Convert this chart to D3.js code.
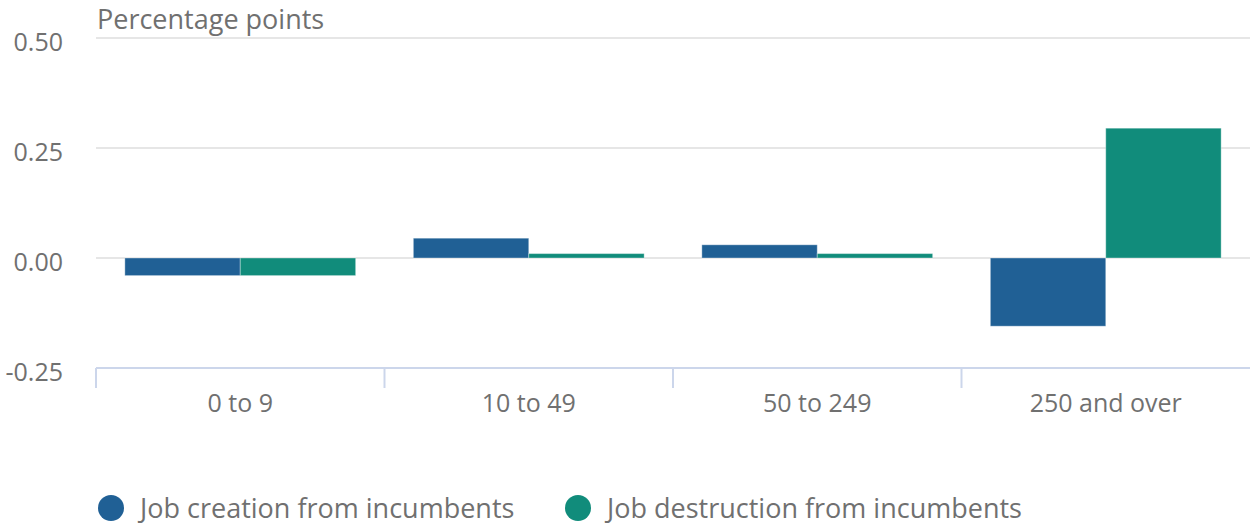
<!DOCTYPE html>
<html>
<head>
<meta charset="utf-8">
<script src="https://cdn.jsdelivr.net/npm/d3@7/dist/d3.min.js"></script>
<style>
  html, body { margin: 0; padding: 0; background: #fff; }
  svg { display: block; font-family: "Open Sans", sans-serif; }
</style>
</head>
<body>
<svg id="chart" width="1250" height="526"></svg>
<script>
// Firm size bands and contributions (percentage points)
const categories = ["0 to 9", "10 to 49", "50 to 249", "250 and over"];
const seriesNames = ["Job creation from incumbents", "Job destruction from incumbents"];
const jobCreation = [-0.04, 0.045, 0.03, -0.155];
const jobDestruction = [-0.04, 0.01, 0.01, 0.295];
const yTicks = [-0.25, 0, 0.25, 0.5];
const colors = ["#206095", "#118c7b"];

const svg = d3.select("#chart");
const margin = { left: 96, right: 0 };
const width = 1250;
const textColor = "#707070";

const x = d3.scaleBand().domain(categories).range([margin.left, width - margin.right]).paddingInner(0).paddingOuter(0);
const xSub = d3.scaleBand().domain(seriesNames).range([0, x.bandwidth()]).paddingOuter(0.25).paddingInner(0);
const y = d3.scaleLinear().domain([-0.25, 0.5]).range([368, 38]);

// gridlines
svg.append("g").selectAll("line").data(yTicks.filter(d => d !== -0.25)).join("line")
  .attr("x1", margin.left).attr("x2", width)
  .attr("y1", d => y(d)).attr("y2", d => y(d))
  .attr("stroke", "#e6e6e6").attr("stroke-width", 2);

// y tick labels
const fmt = v => v.toFixed(2);
svg.append("g").selectAll("text").data(yTicks).join("text")
  .attr("x", 63).attr("y", d => y(d) + 4).attr("dy", "0.36em")
  .attr("text-anchor", "end").attr("fill", textColor).attr("font-size", 25)
  .text(d => fmt(d));

// y axis title
svg.append("text").attr("x", 97).attr("y", 29).attr("fill", textColor)
  .attr("font-size", 27).text("Percentage points");

// bars
const rows = categories.map((c, i) => ({ cat: c, values: [jobCreation[i], jobDestruction[i]] }));
const groups = svg.append("g").selectAll("g").data(rows).join("g")
  .attr("transform", d => `translate(${x(d.cat)},0)`);
groups.selectAll("rect").data(d => d.values.map((v, j) => ({ v, s: seriesNames[j], j }))).join("rect")
  .attr("x", d => xSub(d.s))
  .attr("width", xSub.bandwidth())
  .attr("y", d => y(Math.max(0, d.v)))
  .attr("height", d => Math.abs(y(d.v) - y(0)))
  .attr("fill", d => colors[d.j])
  .attr("stroke", "rgba(255,255,255,0.35)").attr("stroke-width", 1);

// x axis line and ticks
const xAxis = svg.append("g");
xAxis.append("line").attr("x1", margin.left).attr("x2", width).attr("y1", 368).attr("y2", 368)
  .attr("stroke", "#ccd6eb").attr("stroke-width", 2);
const tickPos = categories.map(c => x(c));
xAxis.selectAll("line.tick").data(tickPos).join("line").attr("class", "tick")
  .attr("x1", d => d).attr("x2", d => d).attr("y1", 368).attr("y2", 388)
  .attr("stroke", "#ccd6eb").attr("stroke-width", 2);
xAxis.selectAll("text").data(categories).join("text")
  .attr("x", d => x(d) + x.bandwidth() / 2).attr("y", 412)
  .attr("text-anchor", "middle").attr("fill", textColor).attr("font-size", 25)
  .text(d => d);

// legend
const legendX = [111, 578];
const legend = svg.append("g").selectAll("g").data(seriesNames).join("g")
  .attr("transform", (d, i) => `translate(${legendX[i]},508)`);
legend.append("circle").attr("r", 13).attr("fill", (d, i) => colors[i]);
legend.append("text").attr("x", 29).attr("y", 0).attr("dy", "0.36em")
  .attr("fill", textColor).attr("font-size", 27).text(d => d);
</script>
</body>
</html>
